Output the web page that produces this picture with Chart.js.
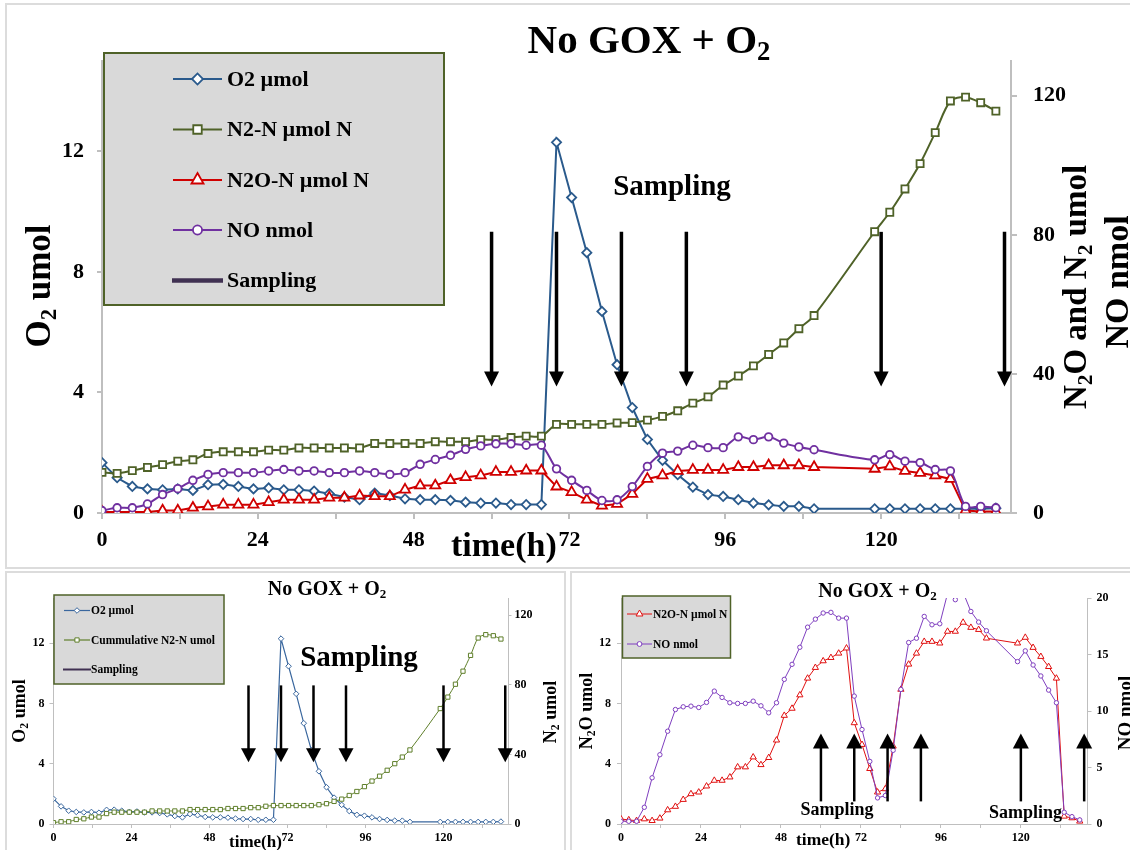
<!DOCTYPE html>
<html>
<head>
<meta charset="utf-8">
<script src="https://cdn.jsdelivr.net/npm/chart.js@4.4.1/dist/chart.umd.min.js"></script>
<style>
  html, body { margin: 0; padding: 0; background: #fff; width: 1130px; height: 850px; overflow: hidden; }
  .panel { position: absolute; border: 2px solid #dcdcdc; box-sizing: border-box; }
  canvas { position: absolute; }
</style>
</head>
<body>
<div class="panel" style="left:5px;top:3px;width:1140px;height:566px"></div>
<div class="panel" style="left:5px;top:571px;width:561px;height:290px"></div>
<div class="panel" style="left:570px;top:571px;width:570px;height:290px"></div>
<canvas id="main" width="1130" height="570" style="left:0;top:0"></canvas>
<canvas id="left" width="566" height="280" style="left:0;top:570px"></canvas>
<canvas id="right" width="562" height="280" style="left:568px;top:570px"></canvas>
<script>
// Incubation time of each measurement (h)
const hours = [0, 2.33, 4.67, 7, 9.33, 11.67, 14, 16.33, 18.67, 21, 23.33, 25.67, 28, 30.33, 32.67, 35,
  37.33, 39.67, 42, 44.33, 46.67, 49, 51.33, 53.67, 56, 58.33, 60.67, 63, 65.33, 67.67, 70, 72.33, 74.67,
  77, 79.33, 81.67, 84, 86.33, 88.67, 91, 93.33, 95.67, 98, 100.33, 102.67, 105, 107.33, 109.67,
  119, 121.33, 123.67, 126, 128.33, 130.67, 133, 135.33, 137.67];

// O2 in headspace (µmol)
const o2Umol = [1.67, 1.17, 0.88, 0.80, 0.77, 0.80, 0.75, 0.94, 0.95, 0.88, 0.80, 0.83, 0.77, 0.77, 0.73,
  0.64, 0.53, 0.44, 0.66, 0.58, 0.47, 0.44, 0.44, 0.42, 0.36, 0.33, 0.33, 0.28, 0.28, 0.28,
  12.3, 10.47, 8.64, 6.69, 4.92, 3.5, 2.44, 1.75, 1.27, 0.86, 0.61, 0.55, 0.44, 0.33, 0.27, 0.22, 0.22, 0.14,
  0.14, 0.14, 0.14, 0.14, 0.14, 0.14, 0.14, 0.14, 0.16];

// N2-N (µmol N), overview panel
const n2NUmol = [11.7, 11.4, 12.2, 13.1, 13.9, 14.9, 15.3, 17.1, 17.6, 17.6, 17.6, 18.1, 18.1, 18.7, 18.7,
  18.7, 18.7, 18.7, 20.0, 20.0, 20.0, 20.0, 20.5, 20.5, 20.5, 21.1, 21.1, 21.7, 22.1, 22.1,
  25.5, 25.5, 25.5, 25.5, 25.9, 26.0, 26.7, 27.8, 29.4, 31.6, 33.4, 36.8, 39.4, 42.3, 45.6, 48.9, 53.0, 56.8,
  80.9, 86.5, 93.2, 100.5, 109.4, 118.5, 119.6, 118.0, 115.6];

// N2O-N (µmol N), overview panel
const n2oNOverview = [0.3, 0.3, 0.3, 0.3, 0.7, 0.7, 1.5, 1.9, 2.4, 2.4, 2.4, 3.1, 3.8, 3.8, 3.8,
  4.4, 4.4, 5.0, 4.8, 4.8, 6.7, 7.9, 7.9, 9.4, 10.3, 10.8, 11.8, 11.8, 12.2, 12.2,
  7.6, 6.0, 3.8, 2.1, 2.6, 5.5, 9.8, 10.8, 12.1, 12.4, 12.4, 12.4, 13.2, 13.2, 13.7, 13.7, 13.7, 13.2,
  12.7, 13.4, 12.1, 11.5, 10.8, 9.8, 0.7, 0.4, 0.4];

// NO (nmol), overview panel
const noOverview = [0.7, 1.5, 1.5, 2.6, 5.3, 7.0, 9.4, 11.1, 11.6, 11.6, 11.6, 12.1, 12.5, 12.1, 12.1,
  11.6, 11.6, 12.1, 11.6, 11.1, 11.6, 14.0, 15.4, 16.6, 18.3, 19.3, 19.9, 19.9, 19.5, 19.5,
  12.7, 9.4, 6.5, 3.6, 3.8, 7.6, 13.4, 17.2, 17.8, 19.5, 18.8, 18.8, 21.9, 21.1, 21.9, 20.1, 19.0, 18.2,
  15.3, 16.8, 14.9, 14.5, 12.5, 12.1, 1.9, 1.9, 1.5];

// Cumulative N2-N (µmol)
const n2Cumulative = [0.75, 1.3, 1.3, 2.6, 3.0, 4.0, 4.0, 6.0, 6.8, 6.8, 6.8, 6.8, 6.8, 7.5, 7.5,
  7.5, 7.5, 7.5, 8.3, 8.3, 8.3, 8.3, 8.3, 8.9, 8.9, 8.9, 9.4, 9.4, 10.2, 10.6,
  10.6, 10.6, 10.6, 10.6, 10.6, 11.1, 11.7, 13.0, 14.3, 16.4, 18.7, 21.5, 24.7, 27.5, 30.9, 34.7, 38.5, 42.6,
  66.4, 73.0, 80.4, 87.9, 97.0, 107.0, 108.9, 108.3, 106.4];

// N2O-N (µmol N)
const n2oNUmol = [0.33, 0.27, 0.22, 0.33, 0.22, 0.38, 0.93, 1.16, 1.62, 2.0, 2.11, 2.51, 2.89, 2.89, 3.11,
  3.78, 3.78, 4.44, 3.93, 4.4, 5.56, 7.2, 7.67, 8.56, 9.67, 10.38, 10.82, 11.04, 11.33, 11.67,
  6.71, 5.27, 3.67, 2.11, 2.33, 5.16, 8.93, 10.6, 11.33, 12.11, 12.11, 12.0, 12.78, 12.78, 13.38, 13.04, 12.9, 12.33,
  12.0, 12.38, 11.71, 11.11, 10.44, 9.67, 0.51, 0.4, 0.18];

// NO (nmol)
const noNmol = [0.24, 0.24, 0.24, 1.48, 4.09, 6.13, 8.21, 10.13, 10.37, 10.43, 10.31, 10.76, 11.76, 11.2, 10.73,
  10.67, 10.67, 10.87, 10.46, 9.84, 10.73, 12.8, 14.13, 15.64, 17.42, 18.13, 18.67, 18.73, 18.22, 18.22,
  11.32, 8.36, 5.54, 2.31, 2.52, 6.52, 11.91, 16.06, 16.44, 18.37, 17.63, 17.72, 20.4, 19.85, 20.5, 18.81, 17.87, 17.1,
  14.37, 15.32, 14.07, 13.1, 11.85, 10.73, 1.04, 0.65, 0.36];

// Gas sampling events (h)
const samplingHours = [60, 70, 80, 90, 120, 139];

// Axis ticks
const timeTickHours = [0, 12, 24, 36, 48, 60, 72, 84, 96, 108, 120, 132];
const timeTickLabels = [0, 24, 48, 72, 96, 120];
const o2Ticks = [0, 4, 8, 12];
const n2Ticks = [0, 40, 80, 120];
const n2oTicks = [0, 4, 8, 12];
const noTicks = [0, 5, 10, 15, 20];

const SERIF = '"Liberation Serif","Times New Roman",Times,serif';
const AXIS = '#bfbfbf';
Chart.defaults.font.family = SERIF;

const series = vals => hours.map((h, i) => ({ x: h, y: vals[i] }));

// Bold text with "_x" marking a subscript character
function drawRich(ctx, str, x, y, size, align, rotate) {
  const parts = [];
  let buf = '';
  for (let i = 0; i < str.length; i++) {
    if (str[i] === '_') { if (buf) parts.push({ t: buf }); buf = ''; parts.push({ t: str[i + 1], sub: true }); i++; }
    else buf += str[i];
  }
  if (buf) parts.push({ t: buf });
  ctx.save();
  ctx.translate(x, y);
  if (rotate) ctx.rotate(rotate);
  ctx.fillStyle = '#000';
  ctx.textAlign = 'left';
  ctx.textBaseline = 'alphabetic';
  const fontOf = p => `bold ${p.sub ? size * 0.65 : size}px ${SERIF}`;
  const widths = parts.map(p => { ctx.font = fontOf(p); return ctx.measureText(p.t).width; });
  const total = widths.reduce((a, b) => a + b, 0);
  let cx = align === 'center' ? -total / 2 : (align === 'right' ? -total : 0);
  parts.forEach((p, i) => {
    ctx.font = fontOf(p);
    ctx.fillText(p.t, cx, p.sub ? size * 0.17 : 0);
    cx += widths[i];
  });
  ctx.restore();
}

function drawMarker(ctx, style, x, y, r, color, lw) {
  ctx.save();
  ctx.beginPath();
  if (style === 'rectRot') {
    ctx.moveTo(x - r, y); ctx.lineTo(x, y - r); ctx.lineTo(x + r, y); ctx.lineTo(x, y + r); ctx.closePath();
  } else if (style === 'rect') {
    const s = r * Math.SQRT1_2; ctx.rect(x - s, y - s, 2 * s, 2 * s);
  } else if (style === 'triangle') {
    ctx.moveTo(x, y - r); ctx.lineTo(x + r * 0.866, y + r * 0.5); ctx.lineTo(x - r * 0.866, y + r * 0.5); ctx.closePath();
  } else {
    ctx.arc(x, y, r, 0, Math.PI * 2);
  }
  ctx.fillStyle = '#fff'; ctx.fill();
  ctx.strokeStyle = color; ctx.lineWidth = lw; ctx.stroke();
  ctx.restore();
}

function drawLegend(chart, box, rows, o) {
  const ctx = chart.ctx;
  ctx.save();
  ctx.fillStyle = '#d9d9d9';
  ctx.fillRect(box.x, box.y, box.w, box.h);
  ctx.strokeStyle = '#4f6228'; ctx.lineWidth = o.border;
  ctx.strokeRect(box.x, box.y, box.w, box.h);
  rows.forEach((row, i) => {
    const y = o.rowY[i];
    const mid = (o.x0 + o.x1) / 2;
    let label;
    if (row.ds !== undefined) {
      const d = chart.data.datasets[row.ds];
      label = d.label;
      ctx.strokeStyle = d.borderColor; ctx.lineWidth = o.lw;
      ctx.beginPath(); ctx.moveTo(o.x0, y); ctx.lineTo(o.x1, y); ctx.stroke();
      drawMarker(ctx, d.pointStyle, mid, y, d.pointRadius * o.mScale, d.borderColor, d.pointBorderWidth);
    } else {
      label = row.label;
      ctx.strokeStyle = row.color; ctx.lineWidth = row.width;
      ctx.beginPath(); ctx.moveTo(o.x0 - 1, y); ctx.lineTo(o.x1 + 1, y); ctx.stroke();
    }
    ctx.fillStyle = '#000';
    ctx.font = `bold ${o.size}px ${SERIF}`;
    ctx.textAlign = 'left'; ctx.textBaseline = 'middle';
    ctx.fillText(label, o.textX, y + 1);
  });
  ctx.restore();
}

// Vertical sampling arrows, extent given in values of the chosen y axis
function drawArrows(chart, axisId, from, to, shaftW, headW, headL) {
  const ctx = chart.ctx, xs = chart.scales.x, ys = chart.scales[axisId];
  ctx.save();
  ctx.fillStyle = '#000'; ctx.strokeStyle = '#000'; ctx.lineWidth = shaftW;
  samplingHours.forEach(h => {
    const x = xs.getPixelForValue(h);
    const y0 = ys.getPixelForValue(from), y1 = ys.getPixelForValue(to);
    const dir = Math.sign(y1 - y0);
    ctx.beginPath(); ctx.moveTo(x, y0); ctx.lineTo(x, y1 - dir * headL * 0.9); ctx.stroke();
    ctx.beginPath();
    ctx.moveTo(x - headW / 2, y1 - dir * headL);
    ctx.lineTo(x + headW / 2, y1 - dir * headL);
    ctx.lineTo(x, y1);
    ctx.closePath(); ctx.fill();
  });
  ctx.restore();
}

function timeAxis(size, pad, tl, height, bw) {
  return {
    type: 'linear', min: 0, max: 140,
    afterBuildTicks: s => { s.ticks = timeTickHours.map(v => ({ value: v })); },
    ticks: {
      autoSkip: false, maxRotation: 0, color: '#000', padding: pad,
      font: { family: SERIF, size: size, weight: 'bold' },
      callback: v => timeTickLabels.includes(v) ? String(v) : ''
    },
    grid: { drawOnChartArea: false, drawTicks: true, tickLength: tl, color: AXIS, lineWidth: bw },
    border: { color: AXIS, width: bw },
    afterFit: s => { s.height = height; }
  };
}

function valueAxis(pos, max, tickVals, size, pad, tl, width, bw) {
  return {
    type: 'linear', position: pos, min: 0, max: max,
    afterBuildTicks: s => { s.ticks = tickVals.map(v => ({ value: v })); },
    ticks: { color: '#000', padding: pad, font: { family: SERIF, size: size, weight: 'bold' } },
    grid: { drawOnChartArea: false, drawTicks: true, tickLength: tl, color: AXIS, lineWidth: bw },
    border: { color: AXIS, width: bw },
    afterFit: s => { s.width = width; }
  };
}

function lineSet(label, vals, axis, color, style, r, lw, pbw, tension, order) {
  return {
    label: label, data: series(vals), yAxisID: axis,
    borderColor: color, backgroundColor: '#fff',
    pointStyle: style, pointRadius: r, pointBorderWidth: pbw,
    pointBorderColor: color, pointBackgroundColor: '#fff',
    borderWidth: lw, tension: tension, order: order
  };
}

const baseOptions = (padTop) => ({
  responsive: false, animation: false, devicePixelRatio: 1,
  layout: { padding: { top: padTop, left: 0, right: 0, bottom: 0 } },
  plugins: { legend: { display: false }, tooltip: { enabled: false } },
  events: []
});

// ---------- Main chart: O2, N2, N2O and NO ----------
new Chart(document.getElementById('main'), {
  type: 'line',
  data: {
    datasets: [
      lineSet('O2 µmol', o2Umol, 'y', '#2a5a8c', 'rectRot', 4.6, 2, 1.8, 0, 3),
      lineSet('N2-N µmol N', n2NUmol, 'y2', '#4f6228', 'rect', 5, 2, 1.8, 0.3, 2),
      lineSet('N2O-N µmol N', n2oNOverview, 'y2', '#d00000', 'triangle', 5.8, 2, 1.8, 0, 1),
      lineSet('NO nmol', noOverview, 'y2', '#7030a0', 'circle', 3.8, 2, 1.8, 0.3, 0)
    ]
  },
  options: Object.assign(baseOptions(61), {
    scales: {
      x: timeAxis(22, 8, 6, 57, 2),
      y: valueAxis('left', 15, o2Ticks, 22, 13, 5, 102, 2),
      y2: valueAxis('right', 130, n2Ticks, 22, 16, 6, 119, 2)
    }
  }),
  plugins: [{
    id: 'mainDecor',
    afterDraw(chart) {
      const ctx = chart.ctx;
      drawArrows(chart, 'y', 9.33, 4.2, 3.5, 15, 15);
      drawLegend(chart, { x: 104, y: 53, w: 340, h: 252 }, [
        { ds: 0 }, { ds: 1 }, { ds: 2 }, { ds: 3 }, { label: 'Sampling', color: '#403152', width: 4.5 }
      ], { rowY: [79, 129.5, 180, 230, 280.5], x0: 173, x1: 222, textX: 227, size: 22, lw: 2, mScale: 1.2, border: 2 });
      drawRich(ctx, 'No GOX + O_2', 649, 53, 41, 'center');
      drawRich(ctx, 'Sampling', 672, 195, 29, 'center');
      drawRich(ctx, 'time(h)', 451, 556, 34, 'left');
      drawRich(ctx, 'O_2 umol', 50, 286, 35, 'center', -Math.PI / 2);
      drawRich(ctx, 'N_2O and N_2 umol', 1086, 287, 33, 'center', -Math.PI / 2);
      drawRich(ctx, 'NO nmol', 1128, 282, 34, 'center', -Math.PI / 2);
    }
  }]
});

// ---------- Lower left: O2 and cumulative N2 ----------
new Chart(document.getElementById('left'), {
  type: 'line',
  data: {
    datasets: [
      lineSet('O2 µmol', o2Umol, 'y', '#3a679e', 'rectRot', 2.8, 1.2, 1, 0, 1),
      lineSet('Cummulative N2-N umol', n2Cumulative, 'y2', '#5f7f2a', 'rect', 3, 1, 1, 0.3, 0)
    ]
  },
  options: Object.assign(baseOptions(28), {
    scales: {
      x: timeAxis(12, 3, 4, 26, 1),
      y: valueAxis('left', 15, o2Ticks, 12, 5, 4, 53.5, 1),
      y2: valueAxis('right', 130, n2Ticks, 12, 3, 3, 57.5, 1)
    }
  }),
  plugins: [{
    id: 'leftDecor',
    afterDraw(chart) {
      const ctx = chart.ctx;
      drawArrows(chart, 'y', 9.2, 4.1, 2.5, 15, 14);
      drawLegend(chart, { x: 54, y: 25, w: 170, h: 89 }, [
        { ds: 0 }, { ds: 1 }, { label: 'Sampling', color: '#403152', width: 2 }
      ], { rowY: [40.5, 70, 99.5], x0: 64, x1: 90, textX: 91, size: 11.5, lw: 1.2, mScale: 1, border: 1.5 });
      drawRich(ctx, 'No GOX + O_2', 327, 25, 20, 'center');
      drawRich(ctx, 'Sampling', 359, 96, 29, 'center');
      drawRich(ctx, 'time(h)', 229, 277, 17, 'left');
      drawRich(ctx, 'O_2 umol', 25, 141, 18, 'center', -Math.PI / 2);
      drawRich(ctx, 'N_2 umol', 556, 142, 18, 'center', -Math.PI / 2);
    }
  }]
});

// ---------- Lower right: N2O and NO ----------
new Chart(document.getElementById('right'), {
  type: 'line',
  data: {
    datasets: [
      lineSet('N2O-N µmol N', n2oNUmol, 'y', '#e01010', 'triangle', 3.6, 1, 1, 0, 1),
      lineSet('NO nmol', noNmol, 'y2', '#7f3fbf', 'circle', 2.2, 1, 1, 0, 0)
    ]
  },
  options: Object.assign(baseOptions(28), {
    scales: {
      x: timeAxis(12, 3, 4, 26, 1),
      y: valueAxis('left', 15, n2oTicks, 12, 6, 4, 53, 1),
      y2: valueAxis('right', 20, noTicks, 12, 5, 4, 42.5, 1)
    }
  }),
  plugins: [{
    id: 'rightDecor',
    afterDraw(chart) {
      const ctx = chart.ctx;
      drawArrows(chart, 'y', 1.5, 6.0, 2.5, 16, 15);
      drawLegend(chart, { x: 54.5, y: 26, w: 108, h: 62 }, [
        { ds: 0 }, { ds: 1 }
      ], { rowY: [44, 74], x0: 59, x1: 84, textX: 85, size: 11.5, lw: 1, mScale: 1.1, border: 1.5 });
      drawRich(ctx, 'No GOX + O_2', 309.5, 27, 20, 'center');
      drawRich(ctx, 'Sampling', 269, 245, 18, 'center');
      drawRich(ctx, 'Sampling', 457.5, 248, 18, 'center');
      drawRich(ctx, 'time(h)', 228, 275, 17.5, 'left');
      drawRich(ctx, 'N_2O umol', 24, 141, 18, 'center', -Math.PI / 2);
      drawRich(ctx, 'NO nmol', 563, 143, 19, 'center', -Math.PI / 2);
    }
  }]
});
</script>
</body>
</html>
